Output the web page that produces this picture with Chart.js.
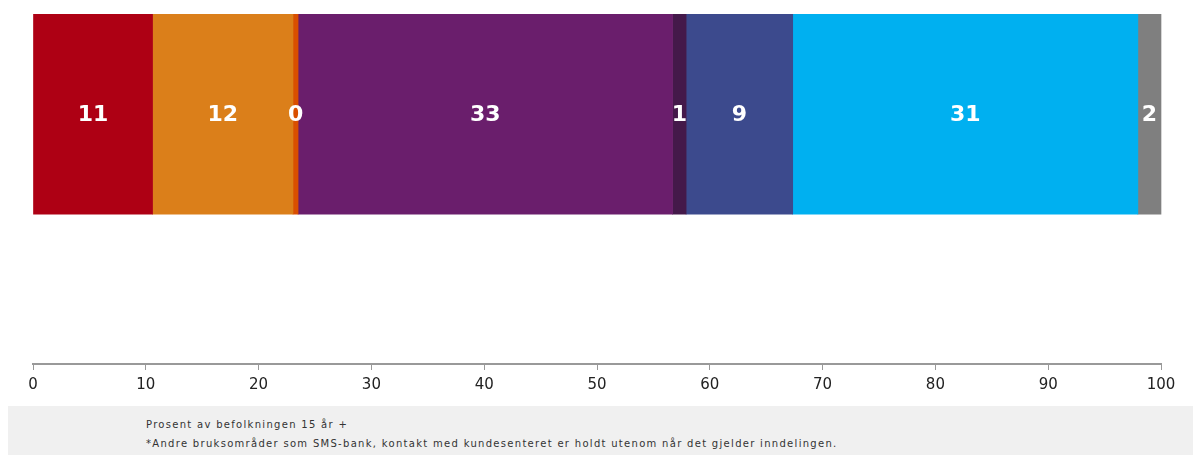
<!DOCTYPE html>
<html>
<head>
<meta charset="utf-8">
<script src="https://cdn.jsdelivr.net/npm/chart.js@4/dist/chart.umd.min.js"></script>
<style>
  html, body { margin: 0; padding: 0; background: #ffffff; }
  #wrap { position: relative; width: 1193px; height: 455px; overflow: hidden; }
  #chartBox { position: absolute; left: 0; top: 0; width: 1193px; height: 406px; }
  #footer { position: absolute; left: 8px; top: 406px; width: 1185px; height: 49px; background: #f0f0f0;
            font-family: "DejaVu Sans", Verdana, sans-serif; font-size: 10px; color: #333; letter-spacing: 1.3px; }
  #footer .l1 { position: absolute; left: 138px; top: 13px; white-space: pre; }
  #footer .l2 { position: absolute; left: 138px; top: 32px; white-space: pre; }
</style>
</head>
<body>
<div id="wrap">
  <div id="chartBox"><canvas id="c"></canvas></div>
  <div id="footer">
    <div class="l1">Prosent av befolkningen 15 år +</div>
    <div class="l2">*Andre bruksområder som SMS-bank, kontakt med kundesenteret er holdt utenom når det gjelder inndelingen.</div>
  </div>
</div>
<script>
// Data
const categories = ['', ''];
const segmentNames = ['A', 'B', 'C', 'D', 'E', 'F', 'G', 'H'];
const segmentValues = [10.6, 12.45, 0.45, 33.2, 1.2, 9.45, 30.6, 2.05];
const segmentColors = ['#ae0014', '#db7f1a', '#d94f00', '#6a1e6c', '#44194a', '#3c4a8d', '#00b0f0', '#7f7f7f'];
const xTicks = [0, 10, 20, 30, 40, 50, 60, 70, 80, 90, 100];

const datasets = segmentValues.map((v, i) => ({
  label: segmentNames[i],
  data: [v, null],
  backgroundColor: segmentColors[i],
  borderWidth: 0,
  barThickness: 200,
  clip: false
}));

const barLabelPlugin = {
  id: 'barLabels',
  afterDatasetsDraw(chart) {
    const ctx = chart.ctx;
    ctx.save();
    ctx.fillStyle = '#ffffff';
    ctx.font = 'bold 22px "DejaVu Sans", Verdana, sans-serif';
    ctx.textAlign = 'center';
    ctx.textBaseline = 'middle';
    chart.data.datasets.forEach((ds, i) => {
      const meta = chart.getDatasetMeta(i);
      const el = meta.data[0];
      if (!el) return;
      const cx = (el.x + el.base) / 2;
      ctx.fillText(String(Math.round(ds.data[0])), cx, el.y + 1);
    });
    ctx.restore();
  }
};

new Chart(document.getElementById('c'), {
  type: 'bar',
  data: { labels: categories, datasets },
  options: {
    indexAxis: 'y',
    responsive: true,
    maintainAspectRatio: false,
    animation: false,
    layout: { padding: { top: 31, left: 33, right: 32, bottom: 6 } },
    plugins: { legend: { display: false }, tooltip: { enabled: false } },
    scales: {
      x: {
        stacked: true,
        min: 0,
        max: 100,
        afterBuildTicks: (axis) => { axis.ticks = xTicks.map(v => ({ value: v })); },
        grid: { display: true, drawOnChartArea: false, drawTicks: true, tickLength: 6, color: '#999999' },
        border: { display: true, color: '#999999', width: 2 },
        ticks: { color: '#222222', font: { family: '"DejaVu Sans", Verdana, sans-serif', size: 15 }, padding: 6, maxRotation: 0 }
      },
      y: {
        stacked: true,
        display: false
      }
    }
  },
  plugins: [barLabelPlugin]
});
</script>
</body>
</html>
